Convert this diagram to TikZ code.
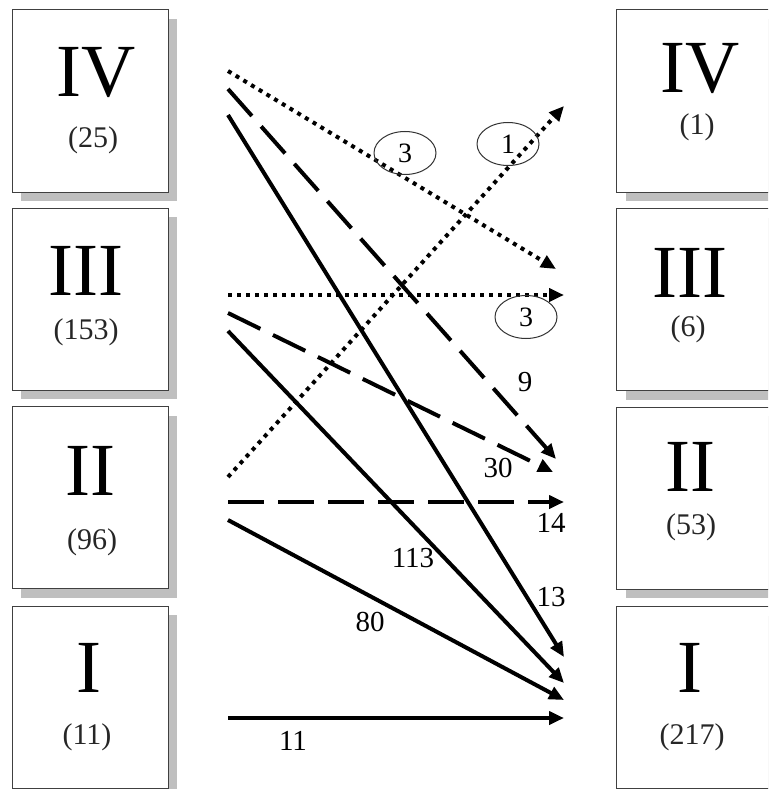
\documentclass[tikz,border=0pt]{standalone}
\usepackage{fontspec}
\setmainfont{Liberation Serif}
\usetikzlibrary{arrows.meta,shadows,shapes.geometric}
\begin{document}
\begin{tikzpicture}[x=1pt,y=-1pt,
  box/.style={draw=black!75,line width=1pt,fill=white,minimum width=156pt,minimum height=182pt,inner sep=0pt,
    copy shadow={shadow xshift=9pt,shadow yshift=-9pt,fill=black!25,draw=none}},
  rbox/.style={draw=black!75,line width=1pt,fill=white,minimum width=170pt,minimum height=182pt,inner sep=0pt,
    copy shadow={shadow xshift=10pt,shadow yshift=-9pt,fill=black!25,draw=none}},
  big/.style={anchor=base,inner sep=0pt,font=\fontsize{75}{75}\selectfont},
  cnt/.style={anchor=base,inner sep=0pt,font=\fontsize{30}{30}\selectfont,text=black!85},
  lab/.style={inner sep=0pt,font=\fontsize{29}{29}\selectfont},
  oval/.style={ellipse,draw=black!80,line width=1pt,minimum width=62pt,minimum height=43pt,inner sep=0pt,font=\fontsize{28}{28}\selectfont},
  flow/.style={line width=4pt,-{Triangle[length=15pt,width=13pt]}},
  dotline/.style={flow,dash pattern=on 4pt off 5pt},
  dashline/.style={flow,dash pattern=on 36pt off 14pt},
]
\useasboundingbox (0,0) rectangle (768,789);
\clip (0,0) rectangle (768,789);
% left boxes
\node[box] (L4) at (90,101) {};
\node[box] (L3) at (90,299) {};
\node[box] (L2) at (90,497.5) {};
\node[box] (L1) at (90,697) {};
% right boxes
\node[rbox] (R4) at (701,101) {};
\node[rbox] (R3) at (701,299.5) {};
\node[rbox] (R2) at (701,498) {};
\node[rbox] (R1) at (701,697.5) {};
% texts left
\node[big] (tL4) at (96,97) {IV};
\node[cnt] (cL4) at (93,147) {(25)};
\node[big] (tL3) at (86,295) {III};
\node[cnt] (cL3) at (86,339) {(153)};
\node[big] (tL2) at (90,495) {II};
\node[cnt] (cL2) at (92,549) {(96)};
\node[big] (tL1) at (89,692) {I};
\node[cnt] (cL1) at (87,744) {(11)};
% texts right
\node[big] (tR4) at (700,93) {IV};
\node[cnt] (cR4) at (697,135) {(1)};
\node[big] (tR3) at (690,297) {III};
\node[cnt] (cR3) at (688,336) {(6)};
\node[big] (tR2) at (690,491) {II};
\node[cnt] (cR2) at (691,534) {(53)};
\node[big] (tR1) at (690,692) {I};
\node[cnt] (cR1) at (692,744) {(217)};
% endpoints
\coordinate (s1) at (228,71);
\coordinate (e1) at (556,269);
\coordinate (s2) at (228,89);
\coordinate (e2) at (556,459);
\coordinate (s3) at (228,115);
\coordinate (e3) at (564,657);
\coordinate (s4) at (228,295);
\coordinate (e4) at (564,295);
\coordinate (s5) at (228,313);
\coordinate (e5) at (553,472);
\coordinate (s6) at (228,331);
\coordinate (e6) at (564,683);
\coordinate (s7) at (228,477);
\coordinate (e7) at (564,106);
\coordinate (s8) at (228,502);
\coordinate (e8) at (564,502);
\coordinate (s9) at (228,520);
\coordinate (e9) at (564,700);
\coordinate (s10) at (228,718);
\coordinate (e10) at (564,718);
% connectors
\draw[dotline] (s1) -- (e1);
\draw[dashline] (s2) -- (e2);
\draw[flow] (s3) -- (e3);
\draw[dotline] (s4) -- (e4);
\draw[dashline] (s5) -- (e5);
\draw[flow] (s6) -- (e6);
\draw[dotline] (s7) -- (e7);
\draw[dashline] (s8) -- (e8);
\draw[flow] (s9) -- (e9);
\draw[flow] (s10) -- (e10);
% labels
\node[oval] (o1) at (405,153) {3};
\node[oval] (o2) at (508,144) {1};
\node[oval] (o3) at (526,317) {3};
\node[lab] (n9) at (525,382) {9};
\node[lab] (n30) at (498,468) {30};
\node[lab] (n14) at (551,523) {14};
\node[lab] (n113) at (413,558) {113};
\node[lab] (n13) at (551,597) {13};
\node[lab] (n80) at (370,622) {80};
\node[lab] (n11) at (293,741) {11};
\end{tikzpicture}
\end{document}
